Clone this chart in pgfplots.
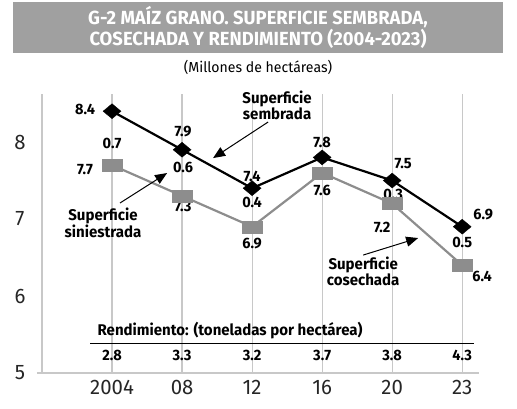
\documentclass[border=0pt]{standalone}
\usepackage{fontspec}
\setmainfont{Fira Sans}[FakeStretch=0.97]
\usepackage{pgfplots}
\pgfplotsset{compat=1.18}
\usetikzlibrary{arrows.meta}
\definecolor{barg}{HTML}{A0A0A0}
\definecolor{cosg}{HTML}{8D8D8D}
\definecolor{gridc}{HTML}{C8C8C8}
\newcommand{\lab}{\fontsize{15}{17}\selectfont\bfseries}
\newcommand{\ann}{\fontsize{15.5}{16}\selectfont\bfseries}
\begin{document}
\begin{tikzpicture}[x=1pt,y=1pt]
\useasboundingbox (0,0) rectangle (517,408);
\fill[barg] (13,406) rectangle (503,355);
\node[white,font=\fontsize{19}{20}\selectfont\bfseries] at (258,390.5) {G-2 MAÍZ GRANO. SUPERFICIE SEMBRADA,};
\node[white,font=\fontsize{19}{20}\selectfont\bfseries] at (258,369) {COSECHADA Y RENDIMIENTO (2004-2023)};
\node[font=\fontsize{14.5}{16}\selectfont] at (258,341) {(Millones de hectáreas)};
\begin{axis}[
  at={(42pt,35pt)}, anchor=south west,
  scale only axis, width=437pt, height=278.7pt,
  xmin=-1, xmax=5.24, ymin=5, ymax=8.62,
  axis line style={draw=none},
  major tick length=0pt,
  xtick={-1,0,1,2,3,4,5},
  xticklabels={,2004,08,12,16,20,23},
  xmajorgrids,
  grid style={color=gridc, line width=1.2pt},
  ytick={5,6,7,8},
  /pgf/number format/assume math mode=true,
  tick label style={font=\fontsize{21}{22}\selectfont, text=black!85},
  yticklabel style={anchor=center, xshift=-22pt},
  xticklabel style={anchor=center, yshift=-14.5pt},
  clip=false,
]
\draw[gridc, line width=1.2pt] ([xshift=-5pt]axis cs:-1,5) -- (axis cs:5.24,5);

\addplot[cosg, line width=2.2pt, mark=square*, mark size=6pt,
  mark options={xscale=1.667, line width=0.3pt, fill=cosg, draw=cosg}]
  coordinates {(0,7.7)(1,7.3)(2,6.9)(3,7.6)(4,7.2)(5,6.4)};
\addplot[black, line width=2.2pt, mark=diamond*, mark size=7.5pt,
  mark options={xscale=1.6, line width=0.3pt, fill=black}]
  coordinates {(0,8.4)(1,7.9)(2,7.4)(3,7.8)(4,7.5)(5,6.9)};

% sembrada labels
\node[font=\lab] at ([xshift=-27pt,yshift=2pt]axis cs:0,8.4) {8.4};
\node[font=\lab] at ([xshift=1pt,yshift=18pt]axis cs:1,7.9) {7.9};
\node[font=\lab] at ([yshift=12pt]axis cs:2,7.4) {7.4};
\node[font=\lab] at ([yshift=15pt]axis cs:3,7.8) {7.8};
\node[font=\lab] at ([xshift=11pt,yshift=17pt]axis cs:4,7.5) {7.5};
\node[font=\lab] at ([xshift=21pt,yshift=12pt]axis cs:5,6.9) {6.9};
% cosechada labels
\node[font=\lab] at ([xshift=-27pt,yshift=-4pt]axis cs:0,7.7) {7.7};
\node[font=\lab] at ([xshift=1pt,yshift=-11pt]axis cs:1,7.3) {7.3};
\node[font=\lab] at ([yshift=-17pt]axis cs:2,6.9) {6.9};
\node[font=\lab] at ([yshift=-18pt]axis cs:3,7.6) {7.6};
\node[font=\lab] at ([xshift=-10pt,yshift=-24pt]axis cs:4,7.2) {7.2};
\node[font=\lab] at ([xshift=20pt,yshift=-11pt]axis cs:5,6.4) {6.4};
% siniestrada labels
\node[font=\lab] at ([yshift=22pt]axis cs:0,7.7) {0.7};
\node[font=\lab] at ([xshift=1pt,yshift=28pt]axis cs:1,7.3) {0.6};
\node[font=\lab] at ([yshift=24pt]axis cs:2,6.9) {0.4};
\node[font=\lab] at ([xshift=1pt,yshift=9pt]axis cs:4,7.2) {0.3};
\node[font=\lab] at ([yshift=23pt]axis cs:5,6.4) {0.5};

% rendimiento
\node[font=\ann] at (axis cs:1.686,5.545) {Rendimiento: (toneladas por hectárea)};
\draw[black, line width=1pt] (axis cs:-0.314,5.377) -- (axis cs:5.171,5.377);
\node[font=\lab] at (axis cs:0,5.234) {2.8};
\node[font=\lab] at (axis cs:1,5.234) {3.3};
\node[font=\lab] at (axis cs:2,5.234) {3.2};
\node[font=\lab] at (axis cs:3,5.234) {3.7};
\node[font=\lab] at (axis cs:4,5.234) {3.8};
\node[font=\lab] at (axis cs:5,5.234) {4.3};

% annotations
\node[font=\ann, align=center] at (axis cs:2.357,8.48) {Superficie\\sembrada};
\draw[line width=1pt, -{Triangle[length=12pt,width=10pt]}] (axis cs:2.229,8.26) -- (axis cs:1.443,7.792);
\node[font=\ann, align=center] at (axis cs:-0.129,6.948) {Superficie\\siniestrada};
\draw[line width=1pt, -{Triangle[length=12pt,width=10pt]}] (axis cs:0.114,7.208) -- (axis cs:0.786,7.597);
\node[font=\ann, align=center] at (axis cs:3.586,6.325) {Superficie\\cosechada};
\draw[line width=1pt, -{Triangle[length=12pt,width=10pt]}] (axis cs:3.586,6.532) -- (axis cs:4.371,6.753);
\end{axis}
\end{tikzpicture}
\end{document}
